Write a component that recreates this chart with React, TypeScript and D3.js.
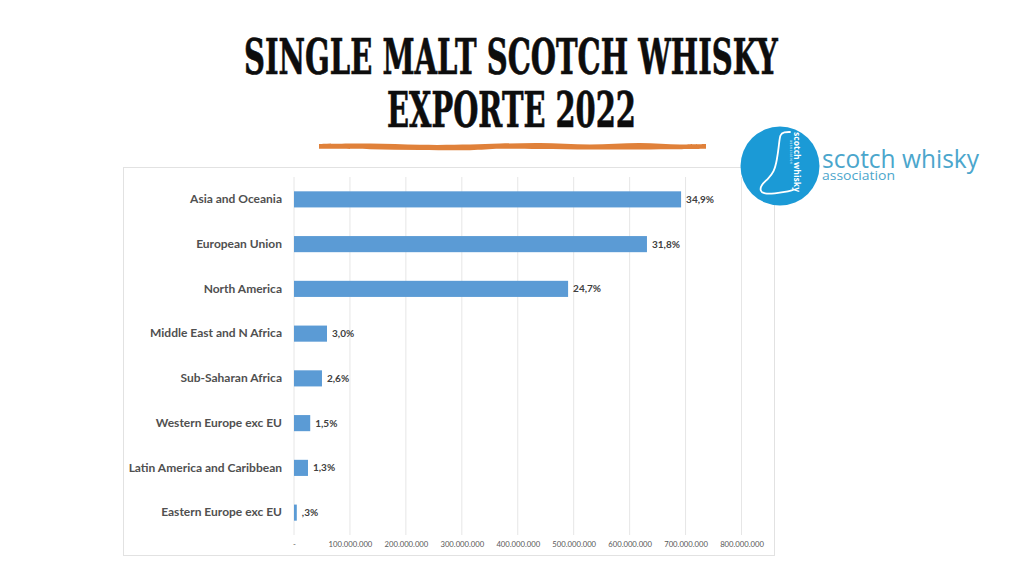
import React, { useRef, useEffect } from "react";
import { select, scaleBand, scaleLinear, axisBottom, axisLeft, line, area, curveCatmullRom, curveBasis } from "d3";

const regions = [
  "Asia and Oceania",
  "European Union",
  "North America",
  "Middle East and N Africa",
  "Sub-Saharan Africa",
  "Western Europe exc EU",
  "Latin America and Caribbean",
  "Eastern Europe exc EU",
];
const exportValues = [692000000, 631000000, 490000000, 59000000, 50000000, 29000000, 25000000, 5000000];
const shareLabels = ["34,9%", "31,8%", "24,7%", "3,0%", "2,6%", "1,5%", "1,3%", ",3%"];
const xTicks = [0, 100000000, 200000000, 300000000, 400000000, 500000000, 600000000, 700000000, 800000000];

// hand drawn underline below the title: [x, y, half thickness]
const strokeShape: [number, number, number][] = [
  [319, 146.4, 2.4],
  [370, 146.4, 2.8],
  [420, 147.4, 2.6],
  [470, 147.4, 2.8],
  [500, 146.2, 2.6],
  [540, 146, 3],
  [590, 147, 2.6],
  [640, 146.2, 3.2],
  [680, 146.8, 2.4],
  [706, 146.4, 2.4],
];

// outline of the bottle in the logo
const bottle: [number, number][] = [
  [790, 132],
  [784, 132],
  [780, 134],
  [779, 145],
  [777, 160],
  [774, 172],
  [768, 179],
  [761, 185],
  [760, 191],
  [764, 194],
  [775, 193.5],
  [785, 192],
  [793, 190],
];

const fmt = (v: number) =>
  v === 0 ? "-" : v.toString().replace(/\B(?=(\d{3})+(?!\d))/g, ".");

const App: React.FC = () => {
  const svgRef = useRef<SVGSVGElement>(null);

  useEffect(() => {
    const svg = select(svgRef.current);
    svg.selectAll("*").remove();

    svg.append("rect").attr("width", 1024).attr("height", 576).attr("fill", "#fff");

    // titel, squeezed to the width of the condensed original
    [
      { text: "SINGLE MALT SCOTCH WHISKY", x: 244, y: 73.5, len: 534 },
      { text: "EXPORTE 2022", x: 387, y: 127, len: 249 },
    ].forEach((t) => {
      const el = svg
        .append("text")
        .attr("font-family", "'DejaVu Serif', serif")
        .attr("font-weight", 700)
        .attr("font-size", 49)
        .attr("fill", "#0d0d0d")
        .attr("stroke", "#0d0d0d")
        .attr("stroke-width", 0.7)
        .text(t.text);
      const natural = (el.node() as SVGTextElement).getComputedTextLength();
      el.attr("transform", `translate(${t.x},${t.y}) scale(${t.len / natural},1)`);
    });

    const strokeArea = area<[number, number, number]>()
      .x((d) => d[0])
      .y0((d) => d[1] - d[2])
      .y1((d) => d[1] + d[2])
      .curve(curveCatmullRom);
    svg.append("path").attr("d", strokeArea(strokeShape)).attr("fill", "#e0813a");

    // rahmen
    svg
      .append("rect")
      .attr("x", 123.5)
      .attr("y", 167.5)
      .attr("width", 651)
      .attr("height", 388)
      .attr("fill", "#fff")
      .attr("stroke", "#e2e2e2");

    const x = scaleLinear().domain([0, 800000000]).range([294, 741.5]);
    const y = scaleBand<string>().domain(regions).range([177, 535]).paddingInner(0.64).paddingOuter(0.32);

    // gitter
    svg
      .append("g")
      .selectAll("line")
      .data(xTicks)
      .join("line")
      .attr("x1", (d) => x(d))
      .attr("x2", (d) => x(d))
      .attr("y1", 177)
      .attr("y2", 535)
      .attr("stroke", "#e6e6e6");

    svg
      .append("g")
      .selectAll("rect")
      .data(regions)
      .join("rect")
      .attr("x", x(0))
      .attr("y", (d) => y(d)!)
      .attr("width", (_, i) => x(exportValues[i]) - x(0))
      .attr("height", y.bandwidth())
      .attr("fill", "#5b9bd5");

    svg
      .append("g")
      .selectAll("text")
      .data(regions)
      .join("text")
      .attr("x", (_, i) => x(exportValues[i]) + 5)
      .attr("y", (d) => y(d)! + y.bandwidth() / 2)
      .attr("dy", "0.35em")
      .attr("font-family", "Lato, sans-serif")
      .attr("font-weight", 700)
      .attr("font-size", 10)
      .attr("fill", "#404040")
      .text((_, i) => shareLabels[i]);

    // achsen
    const yAxis = svg
      .append("g")
      .attr("transform", "translate(294,0)")
      .call(axisLeft(y).tickSize(0).tickPadding(12));
    yAxis.select(".domain").remove();
    yAxis
      .selectAll("text")
      .attr("font-family", "Lato, sans-serif")
      .attr("font-weight", 700)
      .attr("font-size", 12)
      .attr("fill", "#505050");

    const xAxis = svg
      .append("g")
      .attr("transform", "translate(0,535)")
      .call(axisBottom(x).tickValues(xTicks).tickSize(0).tickPadding(7).tickFormat((d) => fmt(+d)));
    xAxis.select(".domain").remove();
    xAxis
      .selectAll("text")
      .attr("font-family", "Lato, sans-serif")
      .attr("font-size", 7.7)
      .attr("fill", "#595959");

    // logo
    const logo = svg.append("g");
    logo.append("circle").attr("cx", 780).attr("cy", 166).attr("r", 39.5).attr("fill", "#1b9ad6");
    const bottleLine = line().curve(curveBasis);
    logo
      .append("path")
      .attr("d", bottleLine(bottle))
      .attr("fill", "none")
      .attr("stroke", "#fff")
      .attr("stroke-width", 1.8)
      .attr("stroke-linecap", "round");
    logo
      .append("text")
      .attr("transform", "translate(794,132) rotate(90)")
      .attr("font-family", "'Open Sans', sans-serif")
      .attr("font-size", 8.5)
      .attr("font-weight", 700)
      .attr("fill", "#fff")
      .attr("textLength", 60)
      .text("scotch whisky");
    logo
      .append("text")
      .attr("transform", "translate(790,140) rotate(90)")
      .attr("font-family", "'Open Sans', sans-serif")
      .attr("font-size", 3.5)
      .attr("fill", "#fff")
      .attr("textLength", 24)
      .text("association");
    logo
      .append("text")
      .attr("x", 822)
      .attr("y", 168)
      .attr("font-family", "'Open Sans', sans-serif")
      .attr("font-size", 25)
      .attr("textLength", 157)
      .attr("lengthAdjust", "spacingAndGlyphs")
      .attr("fill", "#4ba6cc")
      .text("scotch whisky");
    logo
      .append("text")
      .attr("x", 822)
      .attr("y", 180)
      .attr("font-family", "'Open Sans', sans-serif")
      .attr("font-size", 13)
      .attr("textLength", 73)
      .attr("lengthAdjust", "spacingAndGlyphs")
      .attr("fill", "#4ba6cc")
      .text("association");
  }, []);

  return <svg ref={svgRef} width={1024} height={576} style={{ position: "absolute", left: 0, top: 0 }} />;
};

export default App;
